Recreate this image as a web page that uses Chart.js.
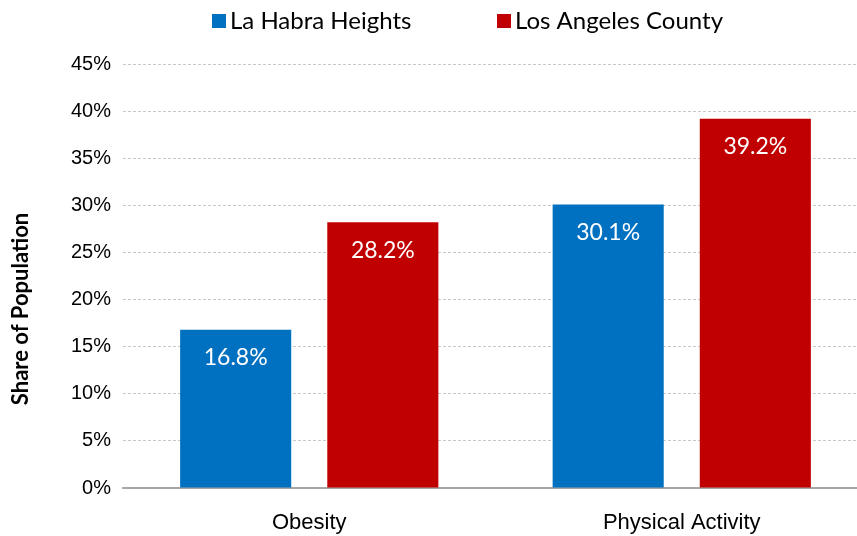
<!DOCTYPE html>
<html>
<head>
<meta charset="utf-8">
<script src="https://cdn.jsdelivr.net/npm/chart.js@4.4.1/dist/chart.umd.min.js"></script>
<style>
  body { margin: 0; background: #fff; }
  #wrap { width: 857px; height: 536px; overflow: hidden; }
  #wrap div { width: 868px; height: 536px; }
</style>
</head>
<body>
<div id="wrap"><div><canvas id="chart"></canvas></div></div>
<script>
const categories = ["Obesity", "Physical Activity"];
const seriesNames = ["La Habra Heights", "Los Angeles County"];
const laHabra = [16.8, 30.1];
const laCounty = [28.2, 39.2];
const yTicks = [0, 5, 10, 15, 20, 25, 30, 35, 40, 45];

const narrow = "'Liberation Sans Narrow', 'Arial Narrow', 'Liberation Sans', sans-serif";
const calibri = "Lato, 'Open Sans', sans-serif";

// white value text near the top of every bar
const valueLabels = {
  id: "valueLabels",
  afterDatasetsDraw(chart) {
    const ctx = chart.ctx;
    ctx.save();
    ctx.fillStyle = "#fff";
    ctx.font = "23px " + calibri;
    ctx.textAlign = "center";
    ctx.textBaseline = "middle";
    chart.data.datasets.forEach((ds, i) => {
      chart.getDatasetMeta(i).data.forEach((bar, j) => {
        ctx.fillText(ds.data[j].toFixed(1) + "%", bar.x, bar.y + 28);
      });
    });
    ctx.restore();
  }
};

// legend row above the plot and the rotated y axis title
const headerAndTitle = {
  id: "headerAndTitle",
  afterDraw(chart) {
    const ctx = chart.ctx;
    ctx.save();
    ctx.font = "24px " + calibri;
    ctx.textBaseline = "middle";
    ctx.textAlign = "left";
    const starts = [212, 497];
    chart.data.datasets.forEach((ds, i) => {
      ctx.fillStyle = ds.backgroundColor;
      ctx.fillRect(starts[i], 14, 14, 14);
      ctx.fillStyle = "#000";
      ctx.fillText(ds.label, starts[i] + 18, 21);
    });

    ctx.translate(21, 309);
    ctx.rotate(-Math.PI / 2);
    ctx.textAlign = "center";
    ctx.font = "bold 22px " + calibri;
    ctx.fillText("Share of Population", 0, 0);
    ctx.restore();
  }
};

new Chart(document.getElementById("chart"), {
  type: "bar",
  data: {
    labels: categories,
    datasets: [
      { label: seriesNames[0], data: laHabra, backgroundColor: "#0070C0" },
      { label: seriesNames[1], data: laCounty, backgroundColor: "#C00000" }
    ]
  },
  options: {
    responsive: true,
    maintainAspectRatio: false,
    animation: false,
    layout: { padding: { top: 64, left: 8, right: 0, bottom: 0 } },
    datasets: { bar: { categoryPercentage: 0.79, barPercentage: 0.755 } },
    plugins: {
      tooltip: { enabled: false },
      legend: { display: false }
    },
    scales: {
      x: {
        grid: { display: false },
        border: { color: "#a6a6a6", width: 2 },
        ticks: { color: "#000", font: { family: narrow, size: 22 }, padding: 14 },
        afterFit: s => { s.height = 48; }
      },
      y: {
        min: 0,
        max: 45,
        afterBuildTicks: s => { s.ticks = yTicks.map(v => ({ value: v })); },
        ticks: {
          color: "#000",
          font: { family: narrow, size: 20 },
          padding: 12,
          callback: v => v + "%"
        },
        grid: {
          color: ctx => ctx.tick && ctx.tick.value === 0 ? "rgba(0,0,0,0)" : "#c8c8c8",
          drawTicks: false
        },
        border: { display: false, dash: [3, 2] },
        afterFit: s => { s.width = 115; }
      }
    }
  },
  plugins: [valueLabels, headerAndTitle]
});
</script>
</body>
</html>
